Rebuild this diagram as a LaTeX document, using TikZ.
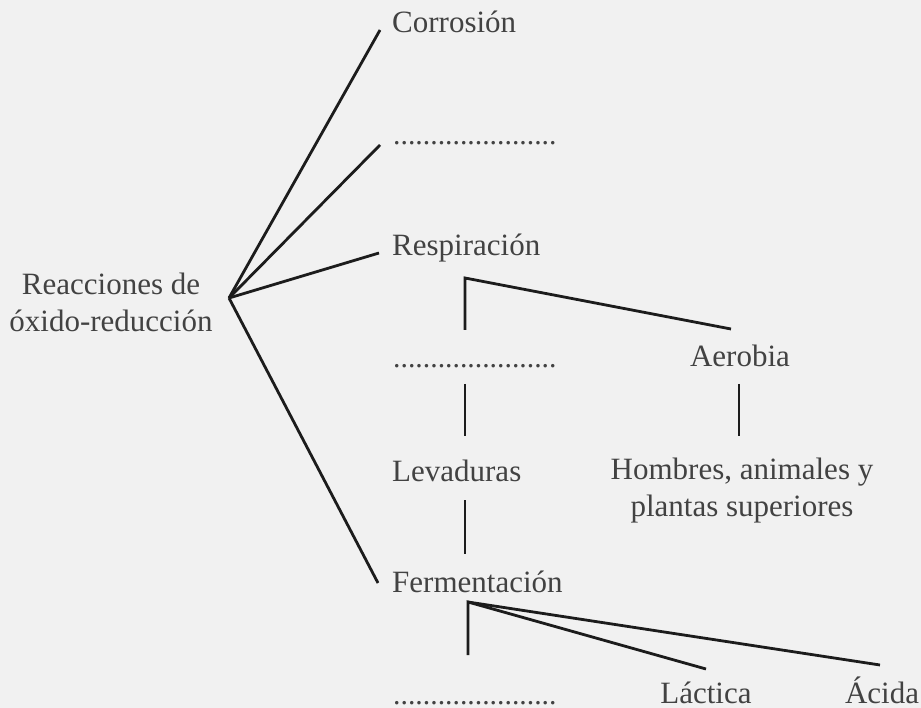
\documentclass[tikz,border=0pt]{standalone}
\usepackage{fontspec}
\setmainfont{Liberation Serif}
\usepackage{tikz}
\definecolor{paper}{HTML}{F1F1F1}
\definecolor{ink}{HTML}{424242}
\definecolor{wire}{HTML}{1C1C1C}

\begin{document}
\begin{tikzpicture}[x=1pt,y=-1pt]
\tikzstyle{word} = [text=ink, font=\fontsize{31}{37}\selectfont, inner sep=0pt, anchor=base west]
\tikzstyle{blank} = [word, font=\fontsize{29.7}{37}\selectfont]
\tikzstyle{branch} = [draw=wire, line width=2.8pt]
\tikzstyle{joint} = [coordinate]

\fill[paper] (0,0) rectangle (921,708);

    % We start by placing the words
    \node [word, anchor=north, align=center] (root) at (111,273) {Reacciones de\\óxido-reducción};
    \node [word] (corrosion) at (392,33) {Corrosión};
    \node [blank] (dotsA) at (393,145) {......................};
    \node [word] (resp) at (392,256) {Respiración};
    \node [blank] (dotsB) at (393,368) {......................};
    \node [word, anchor=base] (aerobia) at (740,367) {Aerobia};
    \node [word] (levad) at (392,481) {Levaduras};
    \node [word, anchor=north, align=center] (hombres) at (742,458) {Hombres, animales y\\plantas superiores};
    \node [word] (ferment) at (392,592) {Fermentación};
    \node [blank] (dotsC) at (393,704) {......................};
    \node [word, anchor=base] (lactica) at (706,703) {Láctica};
    \node [word, anchor=base] (acida) at (882,703) {Ácida};

    % joints where the branches start and stop
    \node [joint] (hub) at (229,298) {};
    \node [joint] (toCorr) at (380,30) {};
    \node [joint] (toDotsA) at (380,145) {};
    \node [joint] (toResp) at (379,253) {};
    \node [joint] (toFerm) at (378,583) {};
    \node [joint] (respKnee) at (465,278) {};
    \node [joint] (respLeft) at (465,330) {};
    \node [joint] (respRight) at (731,329) {};
    \node [joint] (dotsBtop) at (465,384) {};
    \node [joint] (levadTop) at (465,436) {};
    \node [joint] (aerobiaTop) at (739,384) {};
    \node [joint] (hombresTop) at (739,436) {};
    \node [joint] (levadLow) at (465,500) {};
    \node [joint] (fermTop) at (465,554) {};
    \node [joint] (fermKnee) at (468,602) {};
    \node [joint] (fermDown) at (468,655) {};
    \node [joint] (toLactica) at (706,669) {};
    \node [joint] (toAcida) at (880,665) {};

    % Once the joints are placed, the branches follow
    \draw [branch] (hub) -- (toCorr);
    \draw [branch] (hub) -- (toDotsA);
    \draw [branch] (hub) -- (toResp);
    \draw [branch] (hub) -- (toFerm);
    \draw [branch] (respLeft) -- (respKnee) -- (respRight);
    \draw [branch] (dotsBtop) -- (levadTop);
    \draw [branch] (aerobiaTop) -- (hombresTop);
    \draw [branch] (levadLow) -- (fermTop);
    \draw [branch] (fermDown) -- (fermKnee) -- (toLactica);
    \draw [branch] (fermKnee) -- (toAcida);

\end{tikzpicture}
\end{document}
